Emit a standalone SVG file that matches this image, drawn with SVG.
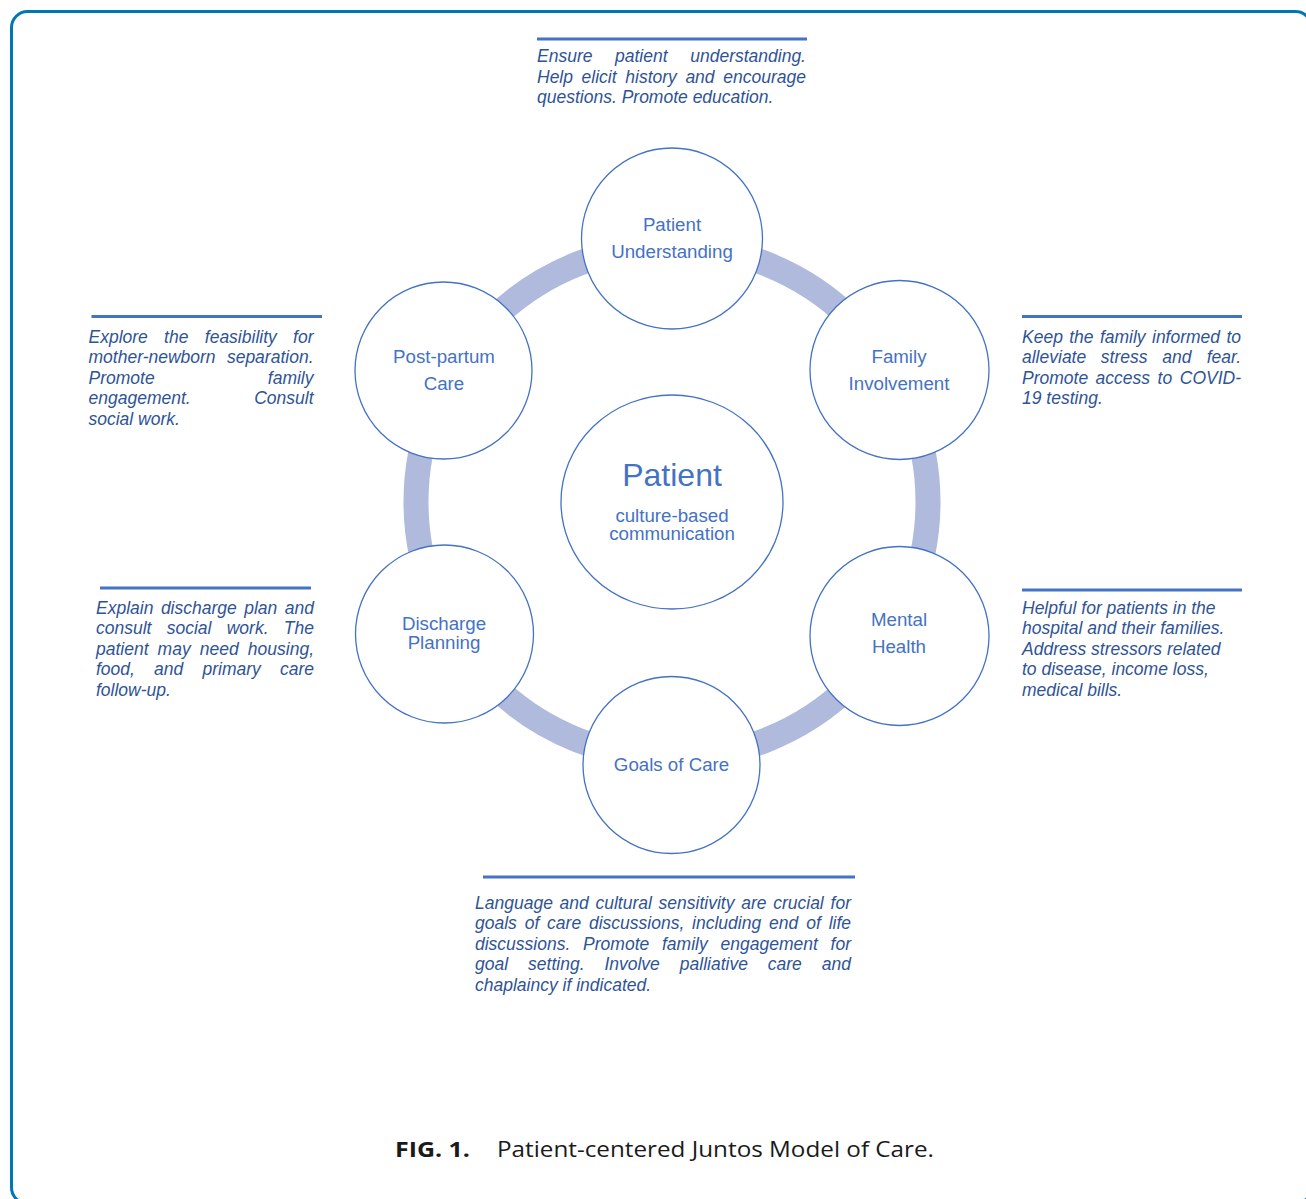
<svg xmlns="http://www.w3.org/2000/svg" width="1306" height="1199" viewBox="0 0 1306 1199">
  <style>
    .frame { fill: none; stroke: #0077b5; stroke-width: 3; }
    .ring { fill: none; stroke: #afbadd; stroke-width: 25; }
    .node { fill: #ffffff; stroke: #4472c4; stroke-width: 1.3; }
    .label { font-family: "Liberation Sans", Arial, sans-serif; font-size: 18.7px; fill: #4472c4; text-anchor: middle; }
    .big { font-size: 32px; }
    .rule { stroke: #4472c4; stroke-width: 3; }
    .note { font-family: "Liberation Sans", Arial, sans-serif; font-size: 17.5px; font-style: italic; fill: #2f5496; }
    .end { text-anchor: end; }
    .cap { font-family: "Open Sans", "Noto Sans", sans-serif; font-size: 22px; fill: #1a1a1a; }
  </style>

  <rect class="frame" x="11.5" y="11.5" width="1300" height="1192" rx="16"/>

  <!-- ring linking the six topics -->
  <g id="connectors">
    <circle class="ring" cx="672" cy="502" r="256"/>
  </g>

  <g id="node-patient">
    <ellipse class="node" cx="672" cy="502" rx="111" ry="107"/>
    <text class="label big" x="672" y="486">Patient</text>
    <text class="label" x="672" y="521.5">culture-based</text>
    <text class="label" x="672" y="539.5">communication</text>
  </g>

  <g id="node-understanding">
    <circle class="node" cx="672" cy="238.5" r="90.5"/>
    <text class="label" x="672" y="230.5">Patient</text>
    <text class="label" x="672" y="257.5">Understanding</text>
  </g>

  <g id="node-family">
    <circle class="node" cx="899.5" cy="370" r="89.5"/>
    <text class="label" x="899" y="362.5">Family</text>
    <text class="label" x="899" y="389.5">Involvement</text>
  </g>

  <g id="node-mental">
    <circle class="node" cx="899.5" cy="636" r="89.5"/>
    <text class="label" x="899" y="625.5">Mental</text>
    <text class="label" x="899" y="652.5">Health</text>
  </g>

  <g id="node-goals">
    <circle class="node" cx="671.5" cy="765" r="88.5"/>
    <text class="label" x="671.5" y="770.5">Goals of Care</text>
  </g>

  <g id="node-discharge">
    <circle class="node" cx="444.5" cy="634" r="89"/>
    <text class="label" x="444" y="629.5">Discharge</text>
    <text class="label" x="444" y="648.5">Planning</text>
  </g>

  <g id="node-postpartum">
    <circle class="node" cx="443.5" cy="370.5" r="88.5"/>
    <text class="label" x="444" y="362.5">Post-partum</text>
    <text class="label" x="444" y="389.5">Care</text>
  </g>

  <!-- notes beside each topic -->
  <g id="note-understanding">
    <line class="rule" x1="537" y1="39" x2="807" y2="39"/>
    <text class="note" y="62"><tspan x="537">Ensure</tspan><tspan x="615">patient</tspan><tspan class="end" x="806">understanding.</tspan></text>
    <text class="note" y="82.5"><tspan x="537">Help</tspan><tspan x="581.6">elicit</tspan><tspan x="625.3">history</tspan><tspan x="685.4">and</tspan><tspan class="end" x="806">encourage</tspan></text>
    <text class="note" x="537" y="103">questions. Promote education.</text>
  </g>

  <g id="note-family">
    <line class="rule" x1="1022" y1="316.5" x2="1242" y2="316.5"/>
    <text class="note" y="342.5"><tspan x="1022">Keep</tspan><tspan x="1069.2">the</tspan><tspan x="1099.9">family</tspan><tspan x="1152">informed</tspan><tspan class="end" x="1241">to</tspan></text>
    <text class="note" y="363"><tspan x="1022">alleviate</tspan><tspan x="1100.8">stress</tspan><tspan x="1162.2">and</tspan><tspan class="end" x="1241">fear.</tspan></text>
    <text class="note" y="383.5"><tspan x="1022">Promote</tspan><tspan x="1095.6">access</tspan><tspan x="1157.6">to</tspan><tspan class="end" x="1241">COVID-</tspan></text>
    <text class="note" x="1022" y="404">19 testing.</text>
  </g>

  <g id="note-postpartum">
    <line class="rule" x1="91.5" y1="316.5" x2="322" y2="316.5"/>
    <text class="note" y="342.5"><tspan x="88.5">Explore</tspan><tspan x="164.1">the</tspan><tspan x="204.8">feasibility</tspan><tspan class="end" x="313.5">for</tspan></text>
    <text class="note" y="363"><tspan x="88.5">mother-newborn</tspan><tspan class="end" x="313.5">separation.</tspan></text>
    <text class="note" y="383.5"><tspan x="88.5">Promote</tspan><tspan class="end" x="313.5">family</tspan></text>
    <text class="note" y="404"><tspan x="88.5">engagement.</tspan><tspan class="end" x="313.5">Consult</tspan></text>
    <text class="note" x="88.5" y="424.5">social work.</text>
  </g>

  <g id="note-discharge">
    <line class="rule" x1="100" y1="588" x2="311" y2="588"/>
    <text class="note" y="613.5"><tspan x="96">Explain</tspan><tspan x="160.9">discharge</tspan><tspan x="244.2">plan</tspan><tspan class="end" x="314">and</tspan></text>
    <text class="note" y="634"><tspan x="96">consult</tspan><tspan x="166.7">social</tspan><tspan x="226.7">work.</tspan><tspan class="end" x="314">The</tspan></text>
    <text class="note" y="654.5"><tspan x="96">patient</tspan><tspan x="157.6">may</tspan><tspan x="199.8">need</tspan><tspan class="end" x="314">housing,</tspan></text>
    <text class="note" y="675"><tspan x="96">food,</tspan><tspan x="154.1">and</tspan><tspan x="202.5">primary</tspan><tspan class="end" x="314">care</tspan></text>
    <text class="note" x="96" y="695.5">follow-up.</text>
  </g>

  <g id="note-mental">
    <line class="rule" x1="1022" y1="590" x2="1242" y2="590"/>
    <text class="note" x="1022" y="613.5">Helpful for patients in the</text>
    <text class="note" x="1022" y="634">hospital and their families.</text>
    <text class="note" x="1022" y="654.5">Address stressors related</text>
    <text class="note" x="1022" y="675">to disease, income loss,</text>
    <text class="note" x="1022" y="695.5">medical bills.</text>
  </g>

  <g id="note-goals">
    <line class="rule" x1="483" y1="877" x2="855" y2="877"/>
    <text class="note" y="908.5"><tspan x="475">Language</tspan><tspan x="559.5">and</tspan><tspan x="595.5">cultural</tspan><tspan x="658.6">sensitivity</tspan><tspan x="741.2">are</tspan><tspan x="773.2">crucial</tspan><tspan class="end" x="851">for</tspan></text>
    <text class="note" y="929"><tspan x="475">goals</tspan><tspan x="524.7">of</tspan><tspan x="547.1">care</tspan><tspan x="589">discussions,</tspan><tspan x="692.1">including</tspan><tspan x="769.1">end</tspan><tspan x="806.2">of</tspan><tspan class="end" x="851">life</tspan></text>
    <text class="note" y="949.5"><tspan x="475">discussions.</tspan><tspan x="583.1">Promote</tspan><tspan x="662">family</tspan><tspan x="720.5">engagement</tspan><tspan class="end" x="851">for</tspan></text>
    <text class="note" y="970"><tspan x="475">goal</tspan><tspan x="528.1">setting.</tspan><tspan x="604.4">Involve</tspan><tspan x="679.8">palliative</tspan><tspan x="767.8">care</tspan><tspan class="end" x="851">and</tspan></text>
    <text class="note" x="475" y="990.5">chaplaincy if indicated.</text>
  </g>

  <g id="caption">
    <text class="cap" x="395" y="1157" font-weight="bold" textLength="75" lengthAdjust="spacingAndGlyphs">FIG. 1.</text>
    <text class="cap" x="497" y="1157" textLength="437" lengthAdjust="spacingAndGlyphs">Patient-centered Juntos Model of Care.</text>
  </g>
</svg>
